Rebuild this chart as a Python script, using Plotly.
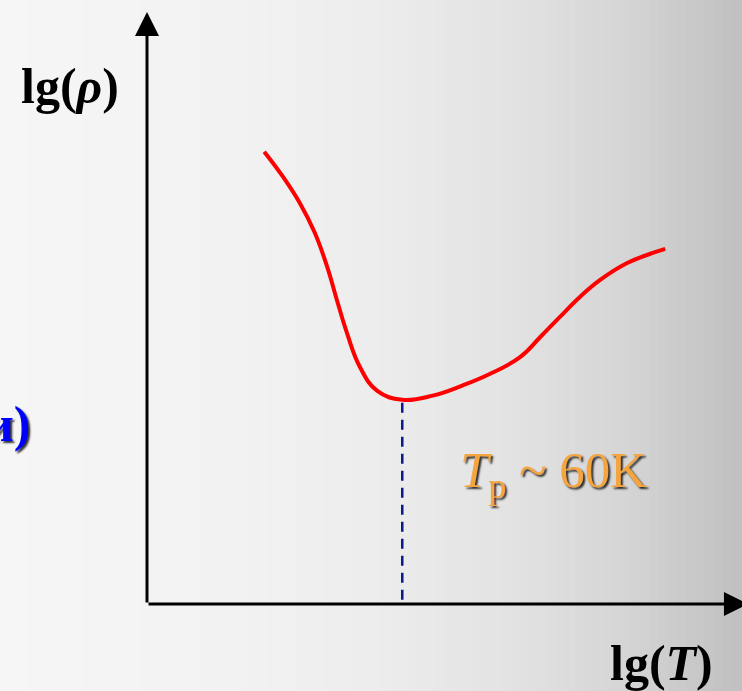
import plotly.graph_objects as go

# Curve data (arbitrary units: lg(T) on x, lg(rho) on y)
lgT = [1.97, 2.29, 2.57, 2.82, 3.03, 3.19, 3.36, 3.58, 3.87, 4.29,
       4.80, 5.30, 5.75, 6.27, 6.61, 6.94, 7.28, 7.61, 8.07, 8.50, 8.71]
lgRho = [7.64, 7.21, 6.77, 6.27, 5.69, 5.14, 4.58, 4.00, 3.60, 3.45,
         3.52, 3.69, 3.88, 4.17, 4.51, 4.85, 5.19, 5.47, 5.76, 5.93, 6.00]
T_min = 4.29        # position of the resistivity minimum (T_p)
rho_min = 3.40
x_axis_end = 10.1
y_axis_end = 10.0

fig = go.Figure()

# background gradient (horizontal), vertical stripes
stops = [(0.0, 246), (0.3, 242), (0.5, 237), (0.7, 226), (0.85, 212), (1.0, 192)]
def grey(t):
    for (a, ga), (b, gb) in zip(stops[:-1], stops[1:]):
        if a <= t <= b:
            return ga + (gb - ga) * (t - a) / (b - a)
    return stops[-1][1]
n = 80
for i in range(n):
    g = int(round(grey((i + 0.5) / n)))
    fig.add_shape(type="rect", xref="paper", yref="paper", x0=i / n, x1=(i + 1) / n + 0.002,
                  y0=0, y1=1, fillcolor=f"rgb({g},{g},{g})", line_width=0, layer="below")

# red curve
fig.add_trace(go.Scatter(x=lgT, y=lgRho, mode="lines",
                         line=dict(color="#ff0000", width=4, shape="spline", smoothing=1.2),
                         hoverinfo="skip"))
# dashed line at minimum
fig.add_trace(go.Scatter(x=[T_min, T_min], y=[rho_min, 0.07], mode="lines",
                         line=dict(color="#0a1a8a", width=2.5, dash="10px,7px"), hoverinfo="skip"))

# axes with arrows
fig.add_annotation(x=0, y=y_axis_end, ax=0, ay=0, xref="x", yref="y", axref="x", ayref="y",
                   showarrow=True, arrowhead=2, arrowsize=1.6, arrowwidth=3, arrowcolor="black", text="")
fig.add_annotation(x=x_axis_end, y=0, ax=0, ay=0, xref="x", yref="y", axref="x", ayref="y",
                   showarrow=True, arrowhead=2, arrowsize=1.6, arrowwidth=3, arrowcolor="black", text="")

serif = "Liberation Serif, Times New Roman, serif"
fig.add_annotation(x=-1.29, y=8.75, xref="x", yref="y", showarrow=False,
                   text="<b>lg(<i>ρ</i>)</b>", font=dict(family=serif, size=50, color="black"))
fig.add_annotation(x=8.64, y=-0.99, xref="x", yref="y", showarrow=False,
                   text="<b>lg(<i>T</i>)</b>", font=dict(family=serif, size=50, color="black"))
fig.add_annotation(x=5.22, y=2.2, xref="x", yref="y", xanchor="left", showarrow=False,
                   text="<i>T</i><sub>p</sub> ~ 60K",
                   font=dict(family=serif, size=51, color="#f4a540", shadow="2px 2px 2px rgba(0,0,0,0.8)"))
fig.add_annotation(x=-1.93, y=3.04, xref="x", yref="y", xanchor="right", showarrow=False,
                   text="<b>и)</b>",
                   font=dict(family=serif, size=50, color="#0000ff", shadow="2px 2px 2px rgba(0,0,0,0.8)"))

fig.update_xaxes(range=[-2.4706, 10.0], visible=False, fixedrange=True)
fig.update_yaxes(range=[-1.4696, 10.2027], visible=False, fixedrange=True)
fig.update_layout(width=742, height=691, margin=dict(l=0, r=0, t=0, b=0),
                  paper_bgcolor="rgba(0,0,0,0)", plot_bgcolor="rgba(0,0,0,0)", showlegend=False)

fig.write_html("out.html", config={"displayModeBar": False},
               post_script="document.body.style.margin='0';document.body.style.overflow='hidden';")
